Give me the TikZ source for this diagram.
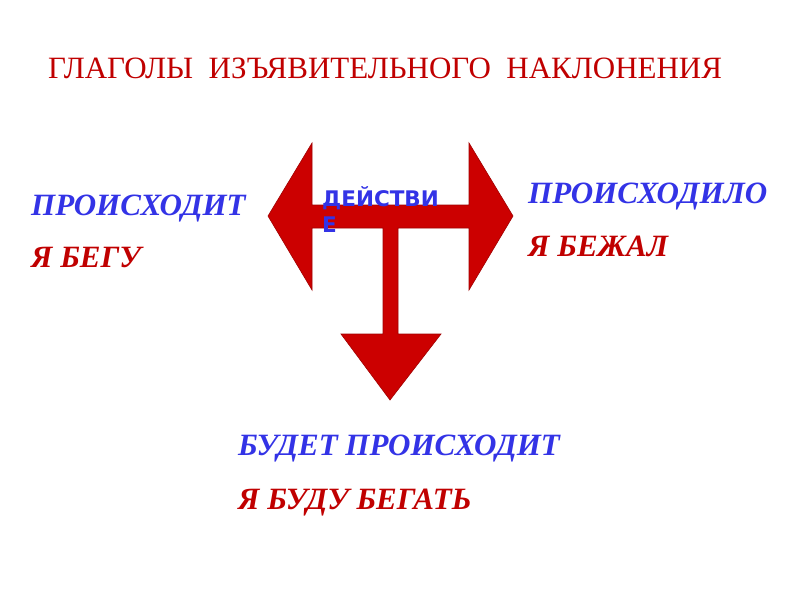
\documentclass[tikz,border=0pt]{standalone}
\usepackage{fontspec}
\setmainfont{Liberation Serif}
\newfontfamily\labelsans{DejaVu Sans}
\usetikzlibrary{positioning}
\definecolor{arrowred}{HTML}{CC0000}
\definecolor{edgered}{HTML}{A00000}
\definecolor{textred}{HTML}{C00000}
\definecolor{textblue}{HTML}{3333E6}
\tikzset{
  tense/.style={anchor=base west, inner sep=0pt, text=textblue,
    font=\fontsize{31}{36}\selectfont\bfseries\itshape},
  example/.style={tense, text=textred}
}
\begin{document}
\begin{tikzpicture}[x=1pt,y=-1pt]
\useasboundingbox (0,0) rectangle (800,600);
% Title
\node (title) [anchor=base west, inner sep=0pt, text=textred,
  font=\fontsize{31}{36}\selectfont] at (48,78)
  {ГЛАГОЛЫ\ \ ИЗЪЯВИТЕЛЬНОГО\ \ НАКЛОНЕНИЯ};
% The three-way arrow
\draw[fill=arrowred, draw=edgered, line width=0.6pt, line join=miter]
  (268,216) -- (312,143) -- (312,205) -- (469,205) -- (469,143)
  -- (513,216) -- (469,290) -- (469,228) -- (398,228) -- (398,334)
  -- (441,334) -- (390,400) -- (341,334) -- (383,334) -- (383,228)
  -- (312,228) -- (312,290) -- cycle;
\node (action) [anchor=base west, inner sep=0pt, text=textblue, align=left,
  font=\labelsans\fontsize{21.5}{26}\selectfont\bfseries] at (322,232)
  {ДЕЙСТВИ\\Е};
% Present
\node (present) [tense] at (31,215) {ПРОИСХОДИТ};
\node (presentex) [example] at (31,267) {Я БЕГУ};
% Past
\node (past) [tense] at (528,203) {ПРОИСХОДИЛО};
\node (pastex) [example] at (528,256) {Я БЕЖАЛ};
% Future
\node (future) [tense] at (238,455) {БУДЕТ ПРОИСХОДИТ};
\node (futureex) [example] at (238,509) {Я БУДУ БЕГАТЬ};
\end{tikzpicture}
\end{document}
